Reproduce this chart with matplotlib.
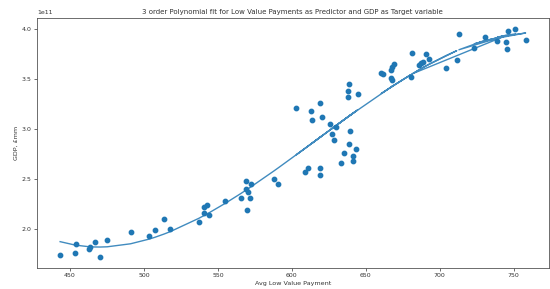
import numpy as np
import matplotlib
matplotlib.use("Agg")
import matplotlib.pyplot as plt

# Avg low value payment (x) and GDP in units of 1e11 GBP (y), in series order
avg_low_value_payment = [
    443.3, 453.2, 454.0, 462.6, 463.7, 466.8, 470.4, 475.1, 490.9, 503.7,
    507.5, 513.8, 517.8, 537.0, 540.8, 542.8, 540.8, 544.3, 555.1, 565.4,
    568.8, 569.3, 570.4, 569.9, 572.0, 572.6, 587.8, 590.8,
    608.8, 610.8, 618.9, 618.9, 633.3, 635.1, 641.4, 641.6, 643.4, 638.7,
    628.8, 627.0, 639.3, 629.7, 626.1, 613.3, 620.5, 613.1, 603.0, 618.9,
    638.2, 644.5, 637.8, 638.7,
    667.9, 667.0, 680.5, 660.5, 661.5, 667.3, 667.9, 668.8, 685.8, 687.2,
    688.8, 693.0, 704.3, 711.5, 691.0, 681.3, 745.6, 723.4, 744.5, 739.0,
    758.1, 730.3, 713.0, 746.5, 751.2,
]
gdp_e11 = [
    1.74, 1.76, 1.85, 1.80, 1.82, 1.87, 1.72, 1.89, 1.97, 1.93,
    1.99, 2.10, 2.00, 2.07, 2.22, 2.24, 2.16, 2.14, 2.28, 2.31,
    2.48, 2.40, 2.37, 2.19, 2.31, 2.45, 2.50, 2.45,
    2.57, 2.61, 2.61, 2.54, 2.66, 2.76, 2.68, 2.73, 2.80, 2.85,
    2.89, 2.95, 2.98, 3.02, 3.05, 3.09, 3.12, 3.18, 3.21, 3.26,
    3.32, 3.35, 3.38, 3.45,
    3.49, 3.51, 3.52, 3.56, 3.55, 3.59, 3.62, 3.65, 3.64, 3.66,
    3.67, 3.70, 3.61, 3.69, 3.75, 3.76, 3.80, 3.81, 3.87, 3.88,
    3.89, 3.92, 3.95, 3.98, 4.00,
]

x = np.array(avg_low_value_payment)
y = np.array(gdp_e11) * 1e11

coef = np.polyfit(x, y, 3)
y_fit = np.polyval(coef, x)

fig = plt.figure(figsize=(5.5, 2.89), dpi=100)
ax = fig.add_axes([0.067, 0.073, 0.931, 0.865])

ax.scatter(x, y, s=10, color="C0", zorder=3)
ax.plot(x, y_fit, color="C0", lw=1.0, alpha=0.85)

ax.set_title("3 order Polynomial fit for Low Value Payments as Predictor and GDP as Target variable",
             fontsize=5.0, pad=3, color="#333333")
ax.set_xlabel("Avg Low Value Payment", fontsize=4.6, labelpad=2, color="#333333")
ax.set_ylabel("GDP, £mm", fontsize=4.6, labelpad=2, color="#333333")
ax.tick_params(labelsize=4.5, length=2, width=0.5, pad=2, colors="#333333")
ax.yaxis.get_offset_text().set_fontsize(4.5)
ax.yaxis.get_offset_text().set_color("#333333")
for s in ax.spines.values():
    s.set_linewidth(0.6)
    s.set_color("#555555")

fig.savefig("out.png", dpi=100)
